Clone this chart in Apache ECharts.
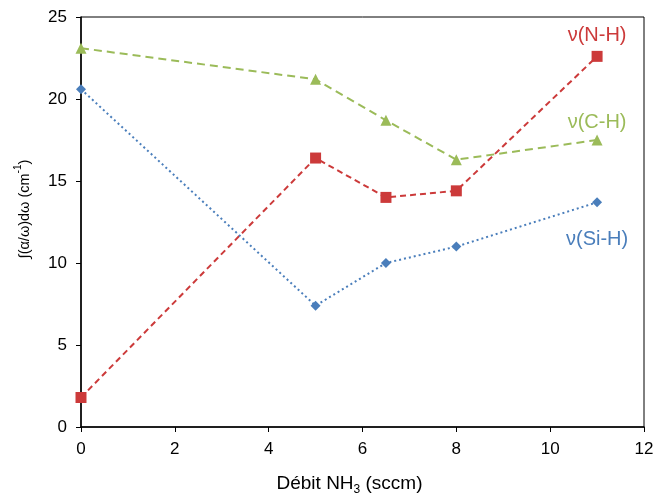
<!DOCTYPE html>
<html>
<head>
<meta charset="utf-8">
<script src="https://cdn.jsdelivr.net/npm/echarts@6/dist/echarts.min.js"></script>
<style>html,body{margin:0;padding:0;background:#fff}#c{width:656px;height:495px}</style>
</head>
<body>
<div id="c"></div>
<script>
const xValues = [0, 5, 6.5, 8, 11];
const nhValues = [1.8, 16.4, 14.0, 14.4, 22.6];
const chValues = [23.1, 21.2, 18.7, 16.3, 17.5];
const sihValues = [20.6, 7.4, 10.0, 11.0, 13.7];
const seriesNames = ['ν(N-H)', 'ν(C-H)', 'ν(Si-H)'];
const xTicks = [0, 2, 4, 6, 8, 10, 12];
const yTicks = [0, 5, 10, 15, 20, 25];

const RED = '#CC3A3A', GREEN = '#9BBB59', BLUE = '#4A7EBB';
const FONT = 'Liberation Sans, Arial, sans-serif';

function pts(vals, name, color, pos, dist) {
  return vals.map((v, i) => {
    const p = { value: [xValues[i], v] };
    if (i === vals.length - 1) {
      p.label = {
        show: true, formatter: name, position: pos, distance: dist,
        color: color, fontSize: 20, fontFamily: FONT
      };
    }
    return p;
  });
}

const chart = echarts.init(document.getElementById('c'));
chart.setOption({
  animation: false,
  backgroundColor: '#fff',
  grid: { left: 81, right: 12, top: 17, bottom: 68, containLabel: false, outerBoundsMode: 'none',
          show: true, borderColor: '#000', borderWidth: 1, backgroundColor: 'transparent' },
  xAxis: {
    type: 'value', min: xTicks[0], max: xTicks[xTicks.length - 1], interval: 2,
    axisLine: { lineStyle: { color: '#000', width: 1.5 } },
    axisTick: { show: true, length: 5, lineStyle: { color: '#000' } },
    axisLabel: { color: '#000', fontSize: 17, fontFamily: FONT, margin: 14 },
    splitLine: { show: false },
    name: 'Débit NH{sub|3} (sccm)', nameLocation: 'middle', nameGap: 45,
    nameTextStyle: {
      color: '#000', fontSize: 19, fontFamily: FONT, lineHeight: 24, padding: [0, 26, 0, 0],
      rich: { sub: { fontSize: 12, lineHeight: 12, verticalAlign: 'bottom', fontFamily: FONT, color: '#000' } }
    }
  },
  yAxis: {
    type: 'value', min: yTicks[0], max: yTicks[yTicks.length - 1], interval: 5,
    axisLine: { show: true, lineStyle: { color: '#000', width: 1.5 } },
    axisTick: { show: true, length: 5, lineStyle: { color: '#000' } },
    axisLabel: { color: '#000', fontSize: 17, fontFamily: FONT, margin: 14 },
    splitLine: { show: false },
    name: '∫(α/ω)dω (cm{sup|-1})', nameLocation: 'middle', nameGap: 44,
    nameTextStyle: {
      color: '#000', fontSize: 14.5, fontFamily: FONT, lineHeight: 24, padding: [0, 0, 0, 26],
      rich: { sup: { fontSize: 10, lineHeight: 10, verticalAlign: 'top', fontFamily: FONT, color: '#000' } }
    }
  },
  series: [
    {
      name: seriesNames[0], type: 'line', data: pts(nhValues, seriesNames[0], RED, 'top', 5),
      symbol: 'rect', symbolSize: 11, itemStyle: { color: RED },
      lineStyle: { color: RED, width: 2, type: [6, 4] }
    },
    {
      name: seriesNames[1], type: 'line', data: pts(chValues, seriesNames[1], GREEN, 'top', 2),
      symbol: 'triangle', symbolSize: 11, itemStyle: { color: GREEN },
      lineStyle: { color: GREEN, width: 2, type: [8, 5] }
    },
    {
      name: seriesNames[2], type: 'line', data: pts(sihValues, seriesNames[2], BLUE, 'bottom', 22),
      symbol: 'diamond', symbolSize: 10, itemStyle: { color: BLUE },
      lineStyle: { color: BLUE, width: 2, type: [2, 3] }
    }
  ]
});
</script>
</body>
</html>
